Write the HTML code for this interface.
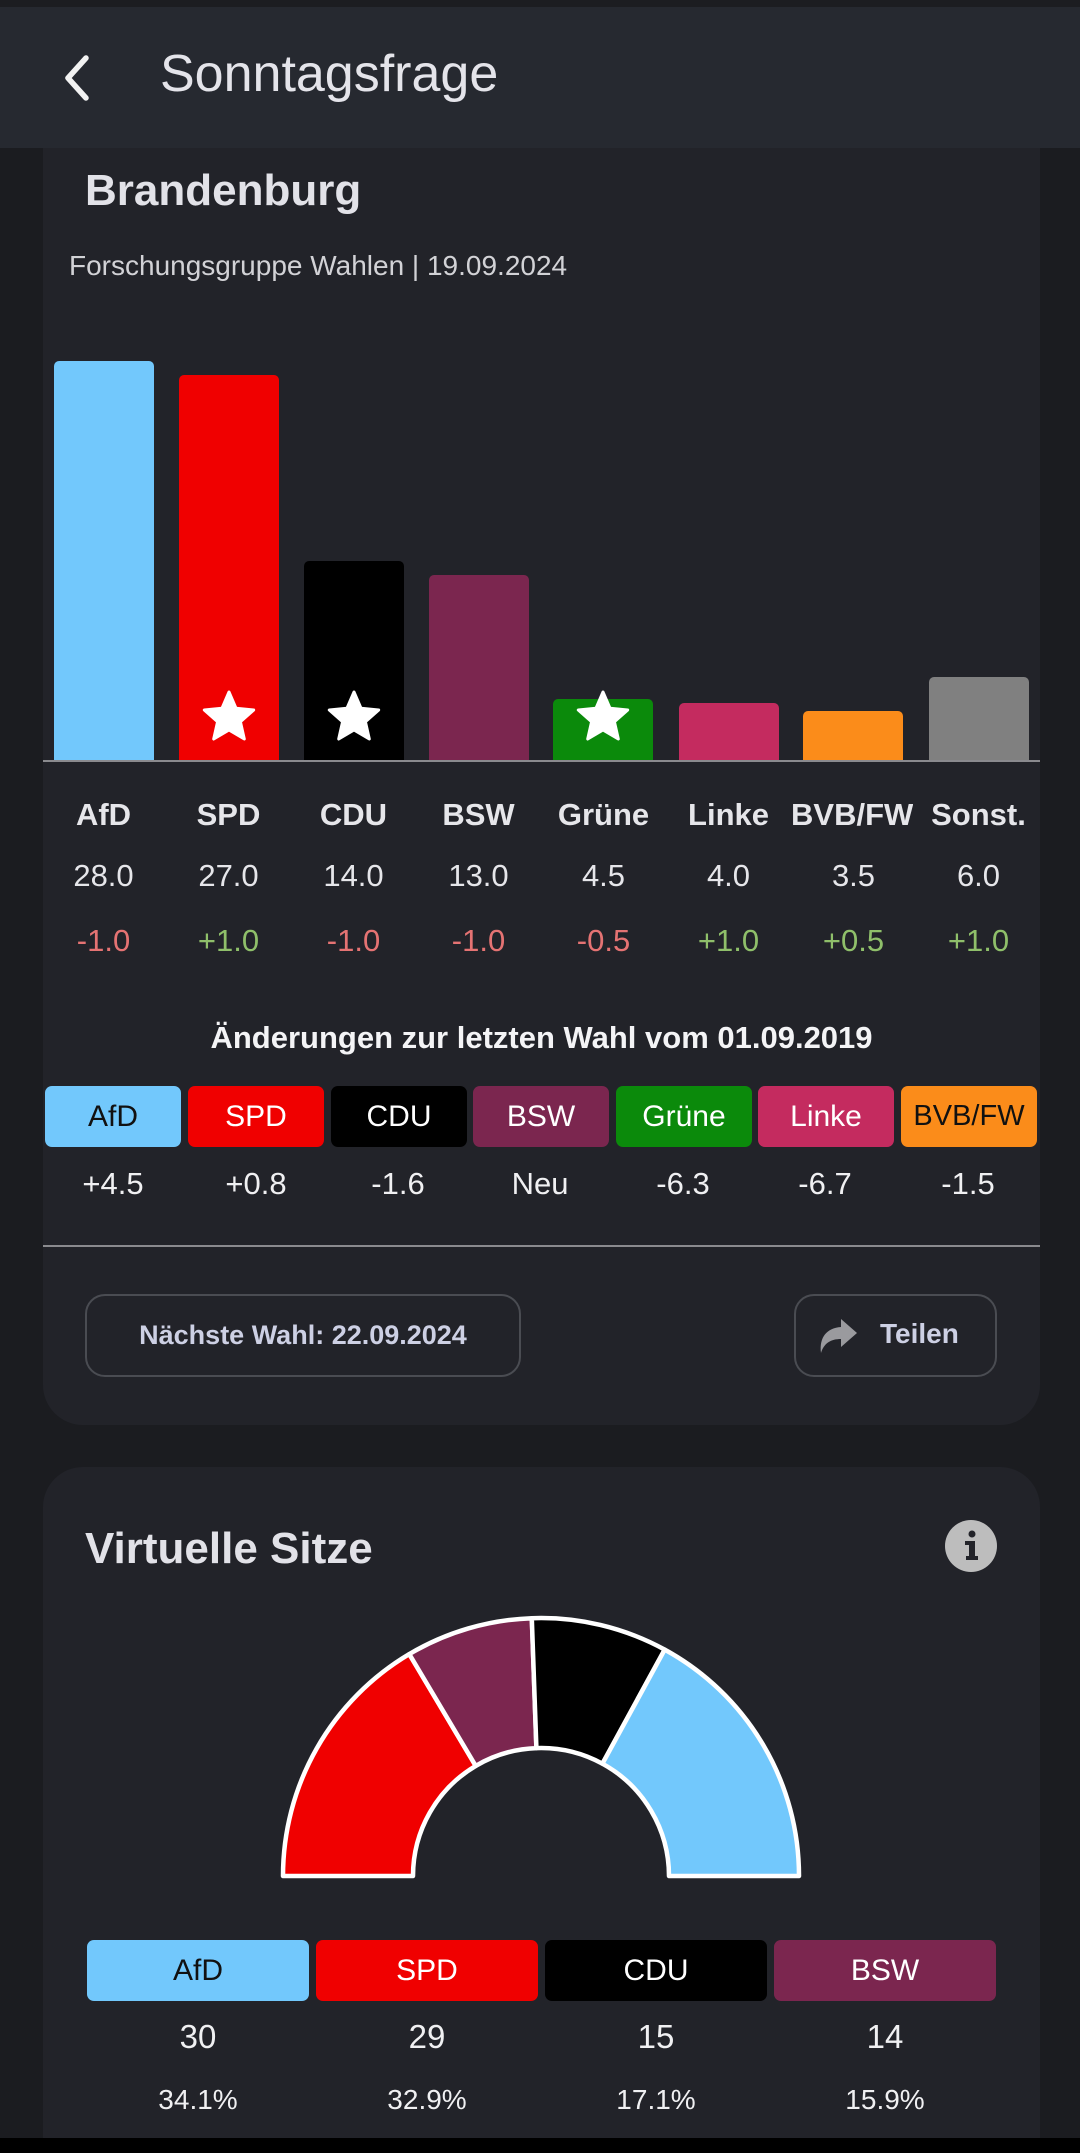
<!DOCTYPE html>
<html><head><meta charset="utf-8"><style>
*{margin:0;padding:0;box-sizing:border-box}
html,body{width:1080px;height:2153px;overflow:hidden}
body{background:#1b1c20;font-family:"Liberation Sans",sans-serif;position:relative;color:#e6e6ea}
.a{position:absolute}
.c{position:absolute;text-align:center}
.card{position:absolute;left:43px;width:997px;background:#222329;border-radius:40px}
.bar{position:absolute;width:100px;border-radius:5px 5px 0 0}
.chip{position:absolute;height:61px;border-radius:7px;font-size:30px;line-height:61px;text-align:center}
</style></head><body>
<div class="card" style="top:100px;height:1325px;border-radius:0 0 40px 40px"></div>
<div class="card" style="top:1467px;height:686px;border-radius:40px 40px 0 0"></div>
<div class="a" style="left:0;top:0;width:1080px;height:148px;background:#262930"></div>
<div class="a" style="left:0;top:0;width:1080px;height:7px;background:#1c1d21"></div>
<svg class="a" style="left:58px;top:52px" width="40" height="52"><path d="M28 6 L10 26 L28 46" stroke="#f2f2f2" stroke-width="5.5" fill="none" stroke-linecap="round" stroke-linejoin="round"/></svg>
<div class="a" style="left:160px;top:44px;font-size:52px;color:#e4e4ea">Sonntagsfrage</div>
<div class="a" style="left:85px;top:166px;font-size:44px;font-weight:bold;color:#e2e2e8">Brandenburg</div>
<div class="a" style="left:69px;top:250px;font-size:28px;color:#d2d2d6">Forschungsgruppe Wahlen | 19.09.2024</div>
<div class="bar" style="left:54px;top:361px;height:400px;background:#72c8fc"></div>
<div class="bar" style="left:179px;top:375px;height:386px;background:#f00000"></div>
<div class="bar" style="left:304px;top:561px;height:200px;background:#000"></div>
<div class="bar" style="left:429px;top:575px;height:186px;background:#7b264f"></div>
<div class="bar" style="left:553px;top:699px;height:62px;background:#0b8a0b"></div>
<div class="bar" style="left:679px;top:703px;height:58px;background:#c42b5f"></div>
<div class="bar" style="left:803px;top:711px;height:50px;background:#fb8c1a"></div>
<div class="bar" style="left:929px;top:677px;height:84px;background:#808080"></div>
<svg class="a" style="left:0;top:0" width="1080" height="800">
<defs><polygon id="st" points="0,-26 7.05,-9.71 24.7,-8 11.41,3.71 15.3,21 0,12 -15.3,21 -11.41,3.71 -24.7,-8 -7.05,-9.71" fill="#fff" stroke="#fff" stroke-width="3" stroke-linejoin="round"/></defs>
<use href="#st" x="229" y="718"/><use href="#st" x="354" y="718"/><use href="#st" x="603" y="718"/>
<rect x="43" y="760" width="997" height="2" fill="#8a8a8e"/>
</svg>
<div class="c" style="left:41px;top:797px;width:125px;font-size:31px;font-weight:bold">AfD</div>
<div class="c" style="left:166px;top:797px;width:125px;font-size:31px;font-weight:bold">SPD</div>
<div class="c" style="left:291px;top:797px;width:125px;font-size:31px;font-weight:bold">CDU</div>
<div class="c" style="left:416px;top:797px;width:125px;font-size:31px;font-weight:bold">BSW</div>
<div class="c" style="left:541px;top:797px;width:125px;font-size:31px;font-weight:bold">Grüne</div>
<div class="c" style="left:666px;top:797px;width:125px;font-size:31px;font-weight:bold">Linke</div>
<div class="a" style="left:791px;top:797px;width:122px;font-size:31px;font-weight:bold;overflow:hidden;white-space:nowrap">BVB/FW</div>
<div class="c" style="left:916px;top:797px;width:125px;font-size:31px;font-weight:bold">Sonst.</div>
<div style="position:absolute;left:41px;top:858px;width:1000px;font-size:31px;display:flex">
<div style="width:125px;text-align:center">28.0</div><div style="width:125px;text-align:center">27.0</div><div style="width:125px;text-align:center">14.0</div><div style="width:125px;text-align:center">13.0</div><div style="width:125px;text-align:center">4.5</div><div style="width:125px;text-align:center">4.0</div><div style="width:125px;text-align:center">3.5</div><div style="width:125px;text-align:center">6.0</div></div>
<div style="position:absolute;left:41px;top:923px;width:1000px;font-size:31px;display:flex">
<div style="width:125px;text-align:center;color:#e57373">-1.0</div><div style="width:125px;text-align:center;color:#8fbf6a">+1.0</div><div style="width:125px;text-align:center;color:#e57373">-1.0</div><div style="width:125px;text-align:center;color:#e57373">-1.0</div><div style="width:125px;text-align:center;color:#e57373">-0.5</div><div style="width:125px;text-align:center;color:#8fbf6a">+1.0</div><div style="width:125px;text-align:center;color:#8fbf6a">+0.5</div><div style="width:125px;text-align:center;color:#8fbf6a">+1.0</div></div>
<div class="c" style="left:43px;top:1020px;width:997px;font-size:31px;font-weight:bold;color:#f4f4f6">Änderungen zur letzten Wahl vom 01.09.2019</div>
<div class="chip" style="left:45px;top:1086px;width:136px;background:#72c8fc;color:#111">AfD</div>
<div class="chip" style="left:188px;top:1086px;width:136px;background:#f00000;color:#fff">SPD</div>
<div class="chip" style="left:331px;top:1086px;width:136px;background:#000;color:#fff">CDU</div>
<div class="chip" style="left:473px;top:1086px;width:136px;background:#7b264f;color:#fff">BSW</div>
<div class="chip" style="left:616px;top:1086px;width:136px;background:#0b8a0b;color:#fff">Grüne</div>
<div class="chip" style="left:758px;top:1086px;width:136px;background:#c42b5f;color:#fff">Linke</div>
<div class="chip" style="left:901px;top:1086px;width:136px;background:#fb8c1a;color:#111;font-size:29px;overflow:hidden;white-space:nowrap">BVB/FW</div>
<div style="position:absolute;left:45px;top:1166px;width:1000px;font-size:31px;display:flex;color:#f0f0f2">
<div style="width:136px;text-align:center;margin-right:7px">+4.5</div><div style="width:136px;text-align:center;margin-right:6px">+0.8</div><div style="width:136px;text-align:center;margin-right:6px">-1.6</div><div style="width:136px;text-align:center;margin-right:7px">Neu</div><div style="width:136px;text-align:center;margin-right:6px">-6.3</div><div style="width:136px;text-align:center;margin-right:7px">-6.7</div><div style="width:136px;text-align:center">-1.5</div></div>
<div class="a" style="left:43px;top:1245px;width:997px;height:2px;background:#8a8a8e"></div>
<div class="a" style="left:85px;top:1294px;width:436px;height:83px;border:2px solid #4a4c52;border-radius:20px;font-size:27px;font-weight:bold;color:#cdd0e4;text-align:center;line-height:79px">Nächste Wahl: 22.09.2024</div>
<div class="a" style="left:794px;top:1294px;width:203px;height:83px;border:2px solid #4a4c52;border-radius:20px"></div>
<svg class="a" style="left:815px;top:1315px" width="46" height="40"><path d="M26 4 L42 18 L26 32 L26 24 C16 24 9 28 6 38 C4 22 12 13 26 12 Z" fill="#9a9a9e"/></svg>
<div class="a" style="left:880px;top:1318px;font-size:28px;font-weight:bold;color:#cdd0e4">Teilen</div>
<div class="a" style="left:85px;top:1524px;font-size:44px;font-weight:bold;color:#e2e2e8">Virtuelle Sitze</div>
<svg class="a" style="left:0;top:1500px" width="1080" height="420">
<g transform="translate(0,-1500)" stroke="#fff" stroke-width="4.5" stroke-linejoin="round">
<path d="M283 1876 A258 258 0 0 1 409.3 1654.1 L475.7 1765.9 A128 128 0 0 0 413 1876 Z" fill="#f00000"/>
<path d="M409.3 1654.1 A258 258 0 0 1 531.8 1618.2 L536.4 1748.1 A128 128 0 0 0 475.7 1765.9 Z" fill="#7b264f"/>
<path d="M531.8 1618.2 A258 258 0 0 1 664.7 1649.6 L602.4 1763.7 A128 128 0 0 0 536.4 1748.1 Z" fill="#000"/>
<path d="M664.7 1649.6 A258 258 0 0 1 799 1876 L669 1876 A128 128 0 0 0 602.4 1763.7 Z" fill="#72c8fc"/>
</g>
<circle cx="971" cy="46" r="26" fill="#bdbdbd"/>
<circle cx="972" cy="34" r="3.5" fill="#222329"/>
<path d="M965 41 L975 41 L975 56 L978 56 L978 60 L966 60 L966 56 L969 56 L969 45 L965 45 Z" fill="#222329"/>
</svg>
<div class="chip" style="left:87px;top:1940px;width:222px;background:#72c8fc;color:#111">AfD</div>
<div class="chip" style="left:316px;top:1940px;width:222px;background:#f00000;color:#fff">SPD</div>
<div class="chip" style="left:545px;top:1940px;width:222px;background:#000;color:#fff">CDU</div>
<div class="chip" style="left:774px;top:1940px;width:222px;background:#7b264f;color:#fff">BSW</div>
<div style="position:absolute;left:87px;top:2018px;width:1000px;font-size:33px;display:flex;color:#f0f0f2">
<div style="width:222px;margin-right:7px;text-align:center">30</div><div style="width:222px;margin-right:7px;text-align:center">29</div><div style="width:222px;margin-right:7px;text-align:center">15</div><div style="width:222px;text-align:center">14</div></div>
<div style="position:absolute;left:87px;top:2084px;width:1000px;font-size:28px;display:flex;color:#f0f0f2">
<div style="width:222px;margin-right:7px;text-align:center">34.1%</div><div style="width:222px;margin-right:7px;text-align:center">32.9%</div><div style="width:222px;margin-right:7px;text-align:center">17.1%</div><div style="width:222px;text-align:center">15.9%</div></div>
<div class="a" style="left:0;top:2138px;width:1080px;height:15px;background:#000;z-index:10"></div>
</body></html>
